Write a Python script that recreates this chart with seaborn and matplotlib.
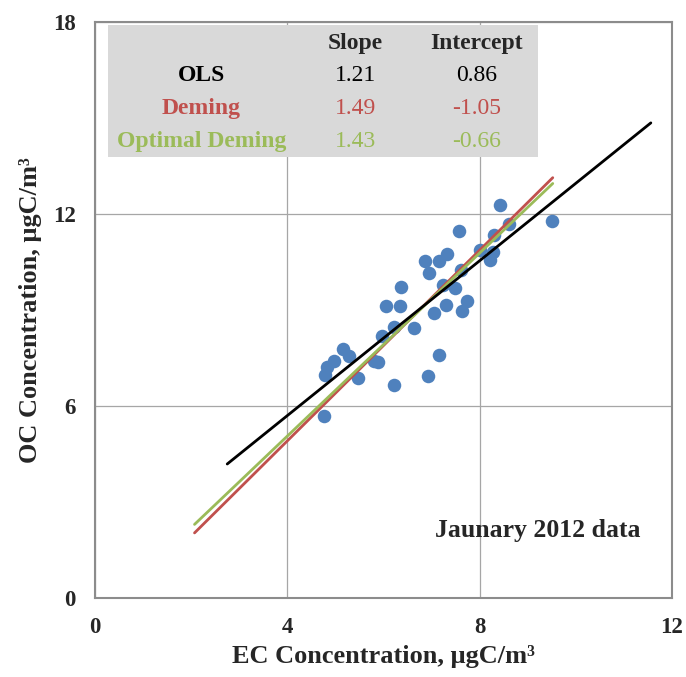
import matplotlib
matplotlib.use("Agg")
import matplotlib.pyplot as plt
import seaborn as sns
import pandas as pd
import numpy as np
from matplotlib.ticker import MultipleLocator
from matplotlib.patches import Rectangle

# ---- data ----
ec = [8.42, 9.51, 7.57, 8.61, 8.30, 8.00, 8.28, 8.21, 6.87, 7.15, 7.33, 6.95, 7.61,
      6.36, 7.23, 7.48, 6.06, 6.34, 7.73, 7.30, 7.64, 7.05, 6.22, 6.64, 5.97, 5.15,
      5.28, 4.98, 4.83, 4.78, 5.81, 5.89, 5.47, 7.15, 6.93, 6.22, 4.77]
oc = [12.28, 11.79, 11.48, 11.69, 11.34, 10.88, 10.82, 10.56, 10.54, 10.54, 10.74, 10.15, 10.25,
      9.72, 9.78, 9.68, 9.13, 9.13, 9.27, 9.15, 8.97, 8.92, 8.48, 8.44, 8.19, 7.77,
      7.56, 7.42, 7.21, 6.97, 7.41, 7.39, 6.88, 7.59, 6.94, 6.65, 5.70]

methods = ["OLS", "Deming", "Optimal Deming"]
slopes = [1.21, 1.49, 1.43]
intercepts = [0.86, -1.05, -0.66]
x_start = [2.75, 2.07, 2.07]
x_end = [11.56, 9.52, 9.52]
line_colors = ["#000000", "#C0504D", "#9BBB59"]

x_ticks = [0, 4, 8, 12]
y_ticks = [0, 6, 12, 18]

sns.set_style("white")
plt.rcParams["font.family"] = ["Liberation Serif", "DejaVu Serif"]

fig = plt.figure(figsize=(6.86, 6.77), dpi=100)
ax = fig.add_axes([95/686, 1 - 598/677, (672-95)/686, (598-22)/677])

pts = pd.DataFrame({"EC": ec, "OC": oc})
sns.scatterplot(data=pts, x="EC", y="OC", ax=ax, color="#4F81BD", s=95,
                linewidth=0, zorder=3)

order = [1, 2, 0]
for i in order:
    xs = np.array([x_start[i], x_end[i]])
    df = pd.DataFrame({"x": xs, "y": slopes[i] * xs + intercepts[i]})
    sns.lineplot(data=df, x="x", y="y", ax=ax, color=line_colors[i],
                 linewidth=2.0, zorder=4)

ax.set_xlim(0, 12)
ax.set_ylim(0, 18)
ax.set_xticks(x_ticks)
ax.set_yticks(y_ticks)
ax.xaxis.set_minor_locator(MultipleLocator(0.8))
ax.yaxis.set_minor_locator(MultipleLocator(1.2))
ax.tick_params(which="both", direction="in", length=5, width=1.2,
               color="#8c8c8c", labelsize=16.5)
ax.tick_params(axis="x", pad=14)
ax.tick_params(axis="y", pad=14)
for lab in ax.get_xticklabels() + ax.get_yticklabels():
    lab.set_fontweight("bold")
ax.grid(True, which="major", color="#a6a6a6", linewidth=0.9)
ax.set_axisbelow(True)
for sp in ax.spines.values():
    sp.set_color("#8c8c8c")
    sp.set_linewidth(1.5)

ax.set_xlabel("EC Concentration, μgC/m³", fontsize=19, fontweight="bold", labelpad=5)
ax.set_ylabel("OC Concentration, μgC/m³", fontsize=19, fontweight="bold", labelpad=8)

# table
ax.add_patch(Rectangle((0.27, 13.78), 8.94, 4.12, facecolor="#d9d9d9",
                       edgecolor="none", zorder=2))
col_label_x = 2.21
col_slope_x = 5.41
col_int_x = 7.93
header_y = 17.34
row_y = [16.34, 15.31, 14.28]
tfs = 17
ax.text(col_slope_x, header_y, "Slope", ha="center", va="center", fontsize=tfs,
        fontweight="bold", zorder=5)
ax.text(col_int_x, header_y, "Intercept", ha="center", va="center", fontsize=tfs,
        fontweight="bold", zorder=5)
for i in range(3):
    c = line_colors[i]
    ax.text(col_label_x, row_y[i], methods[i], ha="center", va="center", fontsize=tfs,
            fontweight="bold", color=c, zorder=5)
    ax.text(col_slope_x, row_y[i], f"{slopes[i]:.2f}", ha="center", va="center",
            fontsize=tfs, color=c, zorder=5)
    ax.text(col_int_x, row_y[i], f"{intercepts[i]:.2f}", ha="center", va="center",
            fontsize=tfs, color=c, zorder=5)

ax.text(9.21, 2.12, "Jaunary 2012 data", ha="center", va="center", fontsize=18.5,
        fontweight="bold", zorder=5)

fig.savefig("out.png", dpi=100)
